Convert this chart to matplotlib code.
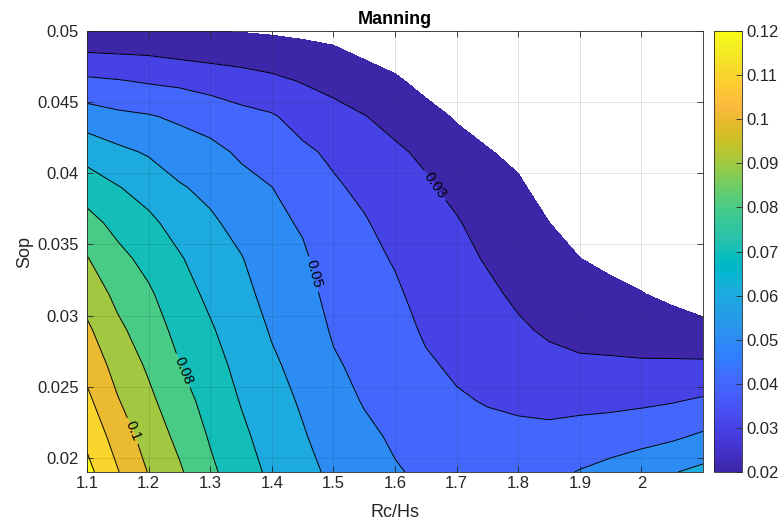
import numpy as np
import matplotlib
matplotlib.use('Agg')
import matplotlib.pyplot as plt
from matplotlib.colors import LinearSegmentedColormap, Normalize
from matplotlib.cm import ScalarMappable

plt.rcParams['font.family'] = ['Liberation Sans', 'DejaVu Sans']

# grid: columns are Rc/Hs, rows are Sop
rc_hs = [1.1, 1.15, 1.2, 1.25, 1.3, 1.35, 1.4, 1.45, 1.5, 1.55, 1.6,
         1.65, 1.7, 1.75, 1.8, 1.85, 1.9, 1.95, 2.0, 2.05, 2.1]
sop = [0.019, 0.0215, 0.024, 0.0265, 0.029, 0.0315, 0.034,
       0.0365, 0.039, 0.0415, 0.044, 0.0465, 0.048, 0.050]

# Manning n, one list per Rc/Hs column (bottom -> top in Sop)
n_110 = [0.123, 0.1176, 0.1122, 0.1069, 0.1017, 0.0961, 0.0905, 0.0834, 0.0755, 0.0661, 0.0548, 0.0417, 0.0329, 0.0212]
n_115 = [0.1105, 0.1057, 0.1006, 0.0963, 0.092, 0.0875, 0.0827, 0.0771, 0.0705, 0.0621, 0.0521, 0.0405, 0.0322, 0.0209]
n_120 = [0.0995, 0.0957, 0.0921, 0.0886, 0.085, 0.0814, 0.0771, 0.0722, 0.0661, 0.059, 0.0507, 0.039, 0.0315, 0.0206]
n_125 = [0.0913, 0.0876, 0.084, 0.0803, 0.0771, 0.074, 0.0709, 0.0662, 0.0609, 0.055, 0.0484, 0.0379, 0.030, 0.0203]
n_130 = [0.0819, 0.0791, 0.0764, 0.0737, 0.071, 0.068, 0.0648, 0.0616, 0.0576, 0.0526, 0.0459, 0.036, 0.0287, 0.020]
n_135 = [0.0745, 0.072, 0.0695, 0.0673, 0.065, 0.0627, 0.0605, 0.0569, 0.053, 0.0486, 0.0428, 0.0341, 0.0276, 0.0196]
n_140 = [0.068, 0.0658, 0.0636, 0.0614, 0.0592, 0.0569, 0.0546, 0.0524, 0.0501, 0.0456, 0.0409, 0.032, 0.0263, 0.0189]
n_145 = [0.0626, 0.0608, 0.0589, 0.057, 0.0552, 0.0533, 0.0514, 0.049, 0.0454, 0.0417, 0.0364, 0.0294, 0.0245, 0.0181]
n_150 = [0.0583, 0.0559, 0.0535, 0.0511, 0.049, 0.0471, 0.0452, 0.0432, 0.0413, 0.0383, 0.0331, 0.0271, 0.0229, 0.0171]
n_155 = [0.0548, 0.0519, 0.0494, 0.0477, 0.046, 0.0442, 0.0425, 0.0408, 0.038, 0.0342, 0.0303, 0.0239, 0.020, 0.015]
n_160 = [0.0507, 0.0488, 0.0469, 0.0451, 0.0432, 0.0413, 0.0393, 0.0366, 0.034, 0.0314, 0.0271, 0.0212, 0.0176, 0.0129]
n_165 = [0.0485, 0.046, 0.0436, 0.0411, 0.0389, 0.037, 0.0351, 0.0332, 0.0313, 0.0283, 0.0228, 0.0174, 0.015, 0.011]
n_170 = [0.0465, 0.0437, 0.0409, 0.0387, 0.0367, 0.0347, 0.0327, 0.0308, 0.0274, 0.0233, 0.0192, 0.015, 0.0125, 0.009]
n_175 = [0.0455, 0.0424, 0.0395, 0.0369, 0.0344, 0.0318, 0.0292, 0.0262, 0.0233, 0.0204, 0.0175, 0.0145, 0.0125, 0.0095]
n_180 = [0.0462, 0.0422, 0.0384, 0.0349, 0.0313, 0.0284, 0.0259, 0.0235, 0.021, 0.0185, 0.016, 0.0135, 0.012, 0.010]
n_185 = [0.0475, 0.0423, 0.0374, 0.0326, 0.0287, 0.0259, 0.023, 0.0201, 0.0175, 0.015, 0.0128, 0.011, 0.0095, 0.008]
n_190 = [0.0505, 0.0438, 0.0374, 0.0314, 0.0273, 0.0237, 0.0201, 0.0166, 0.013, 0.0105, 0.009, 0.008, 0.007, 0.006]
n_195 = [0.0534, 0.0448, 0.0377, 0.0313, 0.0266, 0.0222, 0.018, 0.0148, 0.012, 0.0098, 0.0085, 0.0075, 0.0065, 0.0055]
n_200 = [0.0563, 0.0466, 0.0383, 0.0311, 0.0256, 0.0204, 0.016, 0.013, 0.011, 0.009, 0.008, 0.007, 0.006, 0.005]
n_205 = [0.0594, 0.0485, 0.0394, 0.0313, 0.0245, 0.0179, 0.013, 0.011, 0.0095, 0.008, 0.007, 0.006, 0.0055, 0.0045]
n_210 = [0.0625, 0.0515, 0.0412, 0.0315, 0.023, 0.0147, 0.011, 0.009, 0.008, 0.007, 0.006, 0.005, 0.005, 0.004]

levels = [0.02, 0.03, 0.04, 0.05, 0.06, 0.07, 0.08, 0.09, 0.10, 0.11, 0.12]
labelled = [0.03, 0.05, 0.08, 0.1]
label_spots = [(1.677, 0.0395), (1.475, 0.033), (1.254, 0.0261), (1.175, 0.0219)]

# MATLAB parula (64 entries)
parula_rgb = [
    [0.2422, 0.1504, 0.6603], [0.2504, 0.1650, 0.7076], [0.2578, 0.1818, 0.7511], [0.2647, 0.1978, 0.7952],
    [0.2706, 0.2147, 0.8364], [0.2751, 0.2342, 0.8710], [0.2783, 0.2559, 0.8991], [0.2803, 0.2782, 0.9221],
    [0.2813, 0.3006, 0.9414], [0.2810, 0.3228, 0.9579], [0.2795, 0.3447, 0.9717], [0.2760, 0.3667, 0.9829],
    [0.2699, 0.3892, 0.9906], [0.2602, 0.4123, 0.9952], [0.2440, 0.4358, 0.9988], [0.2206, 0.4603, 0.9973],
    [0.1963, 0.4847, 0.9892], [0.1834, 0.5074, 0.9798], [0.1786, 0.5289, 0.9682], [0.1764, 0.5499, 0.9520],
    [0.1687, 0.5703, 0.9359], [0.1540, 0.5902, 0.9218], [0.1460, 0.6091, 0.9079], [0.1380, 0.6276, 0.8973],
    [0.1248, 0.6459, 0.8883], [0.1113, 0.6635, 0.8763], [0.0952, 0.6798, 0.8598], [0.0689, 0.6948, 0.8394],
    [0.0297, 0.7082, 0.8163], [0.0036, 0.7203, 0.7917], [0.0067, 0.7312, 0.7660], [0.0433, 0.7411, 0.7394],
    [0.0964, 0.7500, 0.7120], [0.1408, 0.7584, 0.6842], [0.1717, 0.7670, 0.6554], [0.1938, 0.7758, 0.6251],
    [0.2161, 0.7843, 0.5923], [0.2470, 0.7918, 0.5567], [0.2906, 0.7973, 0.5188], [0.3406, 0.8008, 0.4789],
    [0.3909, 0.8029, 0.4354], [0.4456, 0.8024, 0.3909], [0.5044, 0.7993, 0.3480], [0.5616, 0.7942, 0.3045],
    [0.6174, 0.7876, 0.2612], [0.6720, 0.7793, 0.2227], [0.7242, 0.7698, 0.1910], [0.7738, 0.7598, 0.1646],
    [0.8203, 0.7498, 0.1535], [0.8634, 0.7406, 0.1596], [0.9035, 0.7330, 0.1774], [0.9393, 0.7288, 0.2100],
    [0.9728, 0.7298, 0.2394], [0.9956, 0.7434, 0.2371], [0.9970, 0.7659, 0.2199], [0.9952, 0.7893, 0.2028],
    [0.9892, 0.8136, 0.1885], [0.9786, 0.8386, 0.1766], [0.9676, 0.8639, 0.1643], [0.9610, 0.8890, 0.1537],
    [0.9597, 0.9135, 0.1423], [0.9628, 0.9373, 0.1265], [0.9691, 0.9606, 0.1064], [0.9769, 0.9839, 0.0805]]
parula = LinearSegmentedColormap.from_list('parula', parula_rgb, N=256)
norm = Normalize(vmin=0.02, vmax=0.12)

X, Y = np.meshgrid(rc_hs, sop)
Z = np.array([n_110, n_115, n_120, n_125, n_130, n_135, n_140, n_145,
              n_150, n_155, n_160, n_165, n_170, n_175, n_180, n_185,
              n_190, n_195, n_200, n_205, n_210]).T

grey = '#262626'
fig = plt.figure(figsize=(7.84, 5.28), dpi=100)
ax = fig.add_axes([0.111, 0.106, 0.7857, 0.8353])

# each band takes the colour of its lower level (as MATLAB does)
band_colors = [parula(norm(v)) for v in levels]
ax.contourf(X, Y, Z, levels=levels + [0.2], colors=band_colors)
plain = [v for v in levels[1:] if v not in labelled]
ax.contour(X, Y, Z, levels=plain, colors='k', linewidths=0.7)
cs = ax.contour(X, Y, Z, levels=labelled, colors='k', linewidths=0.7)
ax.clabel(cs, manual=label_spots, fmt='%g', fontsize=10.5,
          inline=True, inline_spacing=4)

ax.set_xlim(1.1, 2.1)
ax.set_ylim(0.019, 0.05)
ax.set_xticks([1.1, 1.2, 1.3, 1.4, 1.5, 1.6, 1.7, 1.8, 1.9, 2.0])
ax.set_xticklabels(['1.1', '1.2', '1.3', '1.4', '1.5', '1.6', '1.7', '1.8', '1.9', '2'])
ax.set_yticks([0.02, 0.025, 0.03, 0.035, 0.04, 0.045, 0.05])
ax.set_yticklabels(['0.02', '0.025', '0.03', '0.035', '0.04', '0.045', '0.05'])
ax.grid(True, color=grey, alpha=0.15, linewidth=0.6)
ax.set_axisbelow(False)
ax.tick_params(direction='in', top=True, right=True, length=4, width=0.6,
               colors=grey, labelsize=12)
ax.tick_params(axis='x', pad=3)
ax.tick_params(axis='y', pad=6)
for s in ax.spines.values():
    s.set_color(grey)
    s.set_linewidth(0.6)

ax.set_title('Manning', fontsize=13, fontweight='bold', pad=5)
ax.set_xlabel('Rc/Hs', fontsize=13, color=grey, labelpad=9)
ax.set_ylabel('Sop', fontsize=13, color=grey, labelpad=3)

cax = fig.add_axes([0.9107, 0.106, 0.0357, 0.8353])
cb = fig.colorbar(ScalarMappable(norm=norm, cmap=parula), cax=cax)
cb.set_ticks(levels)
cb.set_ticklabels(['%g' % v for v in levels])
cb.ax.tick_params(direction='in', length=4, width=0.6, colors=grey, labelsize=12)
cb.outline.set_edgecolor(grey)
cb.outline.set_linewidth(0.6)

fig.savefig('out.png', dpi=100)
